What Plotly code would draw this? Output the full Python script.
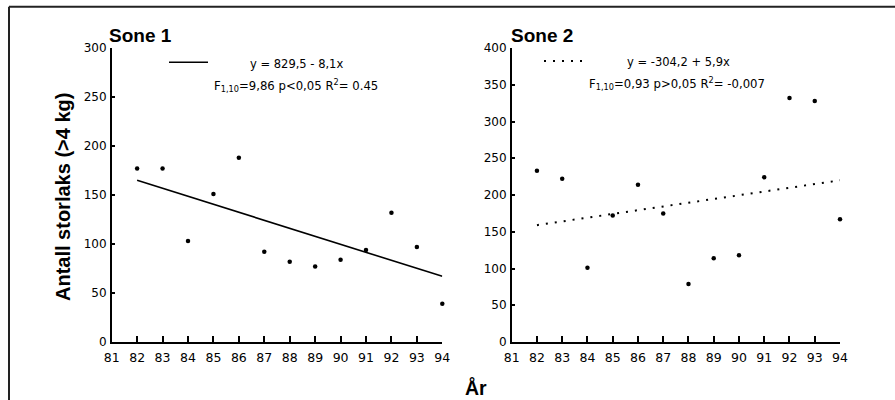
import plotly.graph_objects as go

W, H = 895, 400

years = [82, 83, 84, 85, 86, 87, 88, 89, 90, 91, 92, 93, 94]
sone1 = [177, 177, 103, 151, 188, 92, 82, 77, 84, 94, 132, 97, 39]
sone2 = [233, 222, 101, 172, 214, 175, 79, 114, 118, 224, 332, 328, 167]

trend_years = [82, 94]
trend1 = [165, 67]
trend2 = [159, 220]

x_ticks = list(range(81, 95))
x_ticklabels = [str(v) for v in x_ticks]
y1_ticks = [0, 50, 100, 150, 200, 250, 300]
y2_ticks = [0, 50, 100, 150, 200, 250, 300, 350, 400]

title1 = "Sone 1"
title2 = "Sone 2"
eq1 = "y = 829,5 - 8,1x"
stat1 = "F<sub>1,10</sub>=9,86 p&lt;0,05 R<sup>2</sup>= 0.45"
eq2 = "y = -304,2 + 5,9x"
stat2 = "F<sub>1,10</sub>=0,93 p&gt;0,05 R<sup>2</sup>= -0,007"
ytitle = "Antall storlaks (>4 kg)"
xtitle = "År"

REG = "DejaVu Sans, Arial, sans-serif"
BOLD = "Liberation Sans, Arial, sans-serif"


def px(x):
    return x / W


def py(y):
    return 1 - y / H


fig = go.Figure()

fig.add_trace(go.Scatter(x=years, y=sone1, mode="markers", xaxis="x", yaxis="y",
                         marker=dict(color="black", size=4.5), cliponaxis=False, showlegend=False))
fig.add_trace(go.Scatter(x=trend_years, y=trend1, mode="lines", xaxis="x", yaxis="y",
                         line=dict(color="black", width=1.6), showlegend=False))
fig.add_trace(go.Scatter(x=years, y=sone2, mode="markers", xaxis="x2", yaxis="y2",
                         marker=dict(color="black", size=4.5), cliponaxis=False, showlegend=False))
fig.add_trace(go.Scatter(x=trend_years, y=trend2, mode="lines", xaxis="x2", yaxis="y2",
                         line=dict(color="black", width=2, dash="2px,7px"), showlegend=False))

xcommon = dict(range=[81, 94], tickvals=x_ticks, ticktext=x_ticklabels, showgrid=False,
               zeroline=False, showline=True, linecolor="black", linewidth=1.5,
               ticks="inside", ticklen=6, tickwidth=1.5, tickcolor="black", automargin=False,
               tickfont=dict(family=REG, size=12.5, color="black"), ticklabelstandoff=3)
ycommon = dict(showgrid=False, zeroline=False, showline=True, linecolor="black", linewidth=1.5,
               ticks="inside", ticklen=4, tickwidth=1.5, tickcolor="black", automargin=False,
               tickfont=dict(family=REG, size=12, color="black"), ticklabelstandoff=1)

fig.update_layout(
    width=W, height=H,
    margin=dict(l=0, r=0, t=0, b=0, pad=0, autoexpand=False),
    paper_bgcolor="white", plot_bgcolor="white",
    xaxis=dict(domain=[px(111.7), px(442.3)], anchor="y", **xcommon),
    xaxis2=dict(domain=[px(511.7), px(840)], anchor="y2", **xcommon),
    yaxis=dict(domain=[py(342), py(48)], range=[0, 300], tickvals=y1_ticks, anchor="x", **ycommon),
    yaxis2=dict(domain=[py(342), py(48)], range=[0, 400], tickvals=y2_ticks, anchor="x2", **ycommon),
)

annotations = [
    dict(text="<b>" + title1 + "</b>", x=px(107), y=py(36), xanchor="left", yanchor="middle",
         font=dict(family=BOLD, size=19, color="black")),
    dict(text="<b>" + title2 + "</b>", x=px(509), y=py(35), xanchor="left", yanchor="middle",
         font=dict(family=BOLD, size=19, color="black")),
    dict(text=eq1, x=px(248), y=py(64), xanchor="left", yanchor="middle",
         font=dict(family=REG, size=11.5, color="black")),
    dict(text=stat1, x=px(212), y=py(85), xanchor="left", yanchor="middle",
         font=dict(family=REG, size=11.7, color="black")),
    dict(text=eq2, x=px(625), y=py(62), xanchor="left", yanchor="middle",
         font=dict(family=REG, size=11.5, color="black")),
    dict(text=stat2, x=px(587), y=py(84), xanchor="left", yanchor="middle",
         font=dict(family=REG, size=11.7, color="black")),
    dict(text="<b>" + ytitle + "</b>", x=px(63), y=py(197), xanchor="center", yanchor="middle",
         textangle=-90, font=dict(family=BOLD, size=20, color="black")),
    dict(text="<b>" + xtitle + "</b>", x=px(476), y=py(387), xanchor="center", yanchor="middle",
         font=dict(family=BOLD, size=19.5, color="black")),
]
for a in annotations:
    a.update(xref="paper", yref="paper", showarrow=False)
fig.update_layout(annotations=annotations)

shapes = [
    # legend line samples
    dict(type="line", x0=px(169), x1=px(208), y0=py(62.3), y1=py(62.3),
         line=dict(color="black", width=1.6)),
    dict(type="line", x0=px(544), x1=px(584), y0=py(61), y1=py(61),
         line=dict(color="black", width=2, dash="2px,7px")),
    # frame
    dict(type="line", x0=px(9), x1=1, y0=py(6.7), y1=py(6.7), line=dict(color="#222", width=2)),
    dict(type="line", x0=px(9), x1=px(9), y0=py(6.7), y1=0, line=dict(color="#222", width=2)),
]
for s in shapes:
    s.update(xref="paper", yref="paper")
fig.update_layout(shapes=shapes)

fig.write_html("out.html", config={"displayModeBar": False},
               post_script="document.body.style.margin='0px';document.body.style.overflow='hidden';")
